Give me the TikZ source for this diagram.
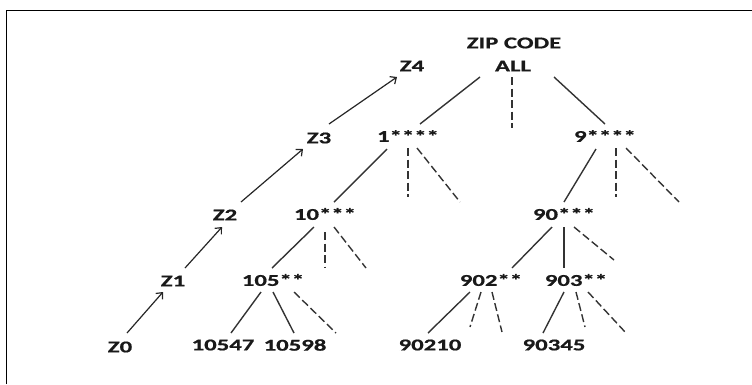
\documentclass[tikz,border=0pt]{standalone}
\usepackage{fontspec}
\setmainfont{Carlito}[FakeStretch=1.5,BoldFeatures={FakeStretch=1.5,FakeBold=0.8}]
\usetikzlibrary{arrows.meta,calc}
\begin{document}
\begin{tikzpicture}[x=1pt,y=-1pt,
  lbl/.style={inner sep=0pt,font=\fontsize{16.5}{17}\selectfont\bfseries,text=black!90},
  edge/.style={line width=1.4pt,draw=black!80},
  dedge/.style={edge,dash pattern=on 8pt off 3.5pt},
  up/.style={line width=1.2pt,draw=black!85,-{Straight Barb[length=5pt,width=9pt,line width=1.2pt]}}]
\useasboundingbox (0,0) rectangle (752,384);
\draw[line width=1.5pt] (6.5,384) -- (6.5,10.5) -- (752,10.5);
% nodes
\node[lbl] (zip) at (514,43) {ZIP CODE};
\node[lbl] (all) at (513,66) {ALL};
\node[lbl] (z4) at (412,66) {Z4};
\node[lbl] (z3) at (319,138) {Z3};
\node[lbl] (one) at (408,136) {1****};
\node[lbl] (nine) at (605,136) {9****};
\node[lbl] (z2) at (225,215) {Z2};
\node[lbl] (ten) at (325,214) {10***};
\node[lbl] (ninety) at (564,214) {90***};
\node[lbl] (z1) at (173,281) {Z1};
\node[lbl] (n105) at (273,280) {105**};
\node[lbl] (n902) at (491,280) {902**};
\node[lbl] (n903) at (576,280) {903**};
\node[lbl] (z0) at (120,347) {Z0};
\node[lbl] (a) at (223,345) {10547};
\node[lbl] (b) at (295,345) {10598};
\node[lbl] (c) at (430,345) {90210};
\node[lbl] (d) at (554,345) {90345};
% tree edges
\draw[edge] ($(all)+(-33,11)$) -- ($(one)+(12,-12)$);
\draw[dedge] ($(all)+(-1,11)$) -- ++(0,51);
\draw[edge] ($(all)+(41,11)$) -- ($(nine)+(0,-12)$);
\draw[edge] ($(one)+(-21,13)$) -- ($(ten)+(9,-12)$);
\draw[dedge] ($(one)+(0,12)$) -- ++(0,49);
\draw[dedge] ($(one)+(9,12)$) -- ++(43,54);
\draw[edge] ($(nine)+(-9,13)$) -- ($(ninety)+(0,-12)$);
\draw[dedge] ($(nine)+(11,12)$) -- ++(0,49);
\draw[dedge] ($(nine)+(21,12)$) -- ++(53,54);
\draw[edge] ($(ten)+(-11,13)$) -- ($(n105)+(-1,-12)$);
\draw[dedge] ($(ten)+(0,18)$) -- ++(0,35);
\draw[dedge] ($(ten)+(9,13)$) -- ++(32,41);
\draw[edge] ($(ninety)+(-12,13)$) -- ($(n902)+(21,-12)$);
\draw[edge] ($(ninety)+(0,13)$) -- ($(n903)+(-12,-12)$);
\draw[dedge] ($(ninety)+(10,13)$) -- ++(40,33);
\draw[edge] ($(n105)+(-12,12)$) -- ($(a)+(8,-12)$);
\draw[edge] ($(n105)+(0,12)$) -- ($(b)+(-1,-12)$);
\draw[dedge] ($(n105)+(21,12)$) -- ++(42,41);
\draw[edge] ($(n902)+(-21,12)$) -- ($(c)+(-2,-12)$);
\draw[dedge] ($(n902)+(-10,12)$) -- ++(-11,35);
\draw[dedge] ($(n902)+(1,12)$) -- ++(10,40);
\draw[edge] ($(n903)+(-12,12)$) -- ($(d)+(-11,-12)$);
\draw[dedge] ($(n903)+(0,12)$) -- ++(9,35);
\draw[dedge] ($(n903)+(12,12)$) -- ++(38,41);
% hierarchy arrows
\draw[up] ($(z0)+(7,-14)$) -- ($(z1)+(-10,11)$);
\draw[up] ($(z1)+(12,-13)$) -- ($(z2)+(-3,12)$);
\draw[up] ($(z2)+(16,-13)$) -- ($(z3)+(-16,11)$);
\draw[up] ($(z3)+(10,-14)$) -- ($(z4)+(-15,11)$);
\end{tikzpicture}
\end{document}
